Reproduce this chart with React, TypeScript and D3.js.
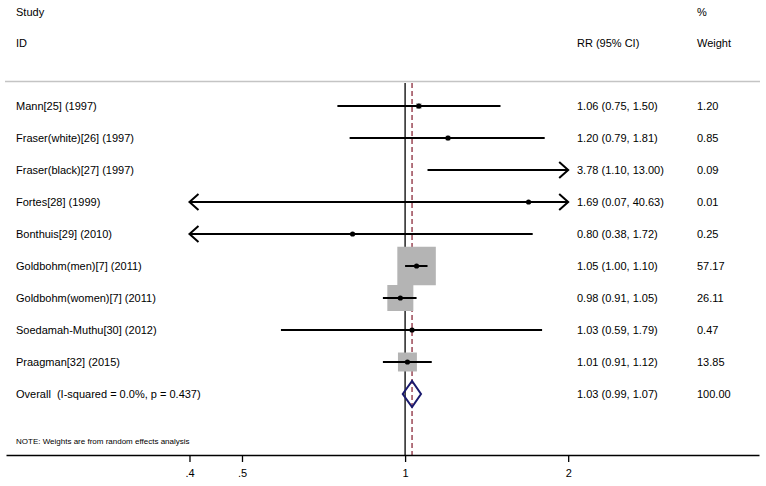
import React, { useEffect, useRef } from "react";
import * as d3 from "d3";

// forest plot: RR per study, log x axis, boxes sized by weight
const studies = [
  "Mann[25] (1997)",
  "Fraser(white)[26] (1997)",
  "Fraser(black)[27] (1997)",
  "Fortes[28] (1999)",
  "Bonthuis[29] (2010)",
  "Goldbohm(men)[7] (2011)",
  "Goldbohm(women)[7] (2011)",
  "Soedamah-Muthu[30] (2012)",
  "Praagman[32] (2015)",
];
const rr = [1.06, 1.2, 3.78, 1.69, 0.8, 1.05, 0.98, 1.03, 1.01];
const lower = [0.75, 0.79, 1.1, 0.07, 0.38, 1.0, 0.91, 0.59, 0.91];
const upper = [1.5, 1.81, 13.0, 40.63, 1.72, 1.1, 1.05, 1.79, 1.12];
const weights = [1.2, 0.85, 0.09, 0.01, 0.25, 57.17, 26.11, 0.47, 13.85];

const overallLabel = "Overall  (I-squared = 0.0%, p = 0.437)";
const overallRR = 1.03;
const overallLower = 0.99;
const overallUpper = 1.07;
const overallWeight = 100.0;

const tickValues = [0.4, 0.5, 1, 2];
const tickLabels = [".4", ".5", "1", "2"];

const W = 766;
const H = 486;
const FONT = "'Liberation Sans', Arial, sans-serif";

const App = () => {
  const svgRef = useRef<SVGSVGElement>(null);

  useEffect(() => {
    const svg = d3.select(svgRef.current);
    svg.selectAll("*").remove();

    const x = d3.scaleLog().domain([0.1834, 4.5]).range([6, 759]);
    const clipLo = tickValues[0];
    const clipHi = tickValues[tickValues.length - 1];
    const nRows = studies.length + 1;
    const y = d3.scaleLinear().domain([0, nRows - 1]).range([106, 394]);
    const axisY = 455;
    const maxSide = 38.5;
    const side = d3.scaleSqrt().domain([0, d3.max(weights) as number]).range([0, maxSide]);

    const fmt = d3.format(".2f");

    //text helper
    const txt = (tx: number, ty: number, s: string, size = 11) =>
      svg
        .append("text")
        .attr("x", tx)
        .attr("y", ty)
        .attr("font-family", FONT)
        .attr("font-size", size)
        .attr("fill", "#000")
        .style("white-space", "pre")
        .text(s);

    txt(16, 16, "Study");
    txt(16, 47, "ID");
    txt(577, 47, "RR (95% CI)");
    txt(697, 16, "%");
    txt(697, 47, "Weight");

    //gray line under header
    svg
      .append("line")
      .attr("x1", 5)
      .attr("x2", 760)
      .attr("y1", 81.5)
      .attr("y2", 81.5)
      .attr("stroke", "#c4c4c4")
      .attr("stroke-width", 1.5);

    //null line and overall dashed line
    svg
      .append("line")
      .attr("x1", x(1))
      .attr("x2", x(1))
      .attr("y1", 83)
      .attr("y2", axisY)
      .attr("stroke", "#000")
      .attr("stroke-width", 1.3);
    svg
      .append("line")
      .attr("x1", x(overallRR))
      .attr("x2", x(overallRR))
      .attr("y1", 83)
      .attr("y2", axisY)
      .attr("stroke", "#8b2a3a")
      .attr("stroke-width", 1.3)
      .attr("stroke-dasharray", "5 3");

    //weight boxes
    svg
      .append("g")
      .selectAll("rect")
      .data(studies)
      .enter()
      .append("rect")
      .attr("x", (_, i) => x(rr[i]) - side(weights[i]) / 2)
      .attr("y", (_, i) => y(i) - side(weights[i]) / 2)
      .attr("width", (_, i) => side(weights[i]))
      .attr("height", (_, i) => side(weights[i]))
      .attr("fill", "#b4b4b4");

    //CI lines with arrows where clipped
    const g = svg.append("g").attr("stroke", "#000").attr("stroke-width", 2).attr("fill", "none");
    studies.forEach((_, i) => {
      const lo = Math.max(lower[i], clipLo);
      const hi = Math.min(upper[i], clipHi);
      const yy = y(i);
      g.append("line").attr("x1", x(lo)).attr("x2", x(hi)).attr("y1", yy).attr("y2", yy);
      if (lower[i] < clipLo) {
        const ax = x(clipLo);
        g.append("path").attr("d", `M${ax + 9},${yy - 8}L${ax},${yy}L${ax + 9},${yy + 8}`);
      }
      if (upper[i] > clipHi) {
        const ax = x(clipHi);
        g.append("path").attr("d", `M${ax - 9},${yy - 8}L${ax},${yy}L${ax - 9},${yy + 8}`);
      }
    });

    //point estimates (only those inside the plotted range)
    svg
      .append("g")
      .selectAll("circle")
      .data(studies.map((_, i) => i).filter((i) => rr[i] >= clipLo && rr[i] <= clipHi))
      .enter()
      .append("circle")
      .attr("cx", (i) => x(rr[i]))
      .attr("cy", (i) => y(i))
      .attr("r", 2.6)
      .attr("fill", "#000");

    //overall diamond
    const oy = y(nRows - 1);
    svg
      .append("path")
      .attr(
        "d",
        `M${x(overallLower)},${oy}L${x(overallRR)},${oy - 13}L${x(overallUpper)},${oy}L${x(overallRR)},${oy + 13}Z`
      )
      .attr("fill", "none")
      .attr("stroke", "#1a1a6e")
      .attr("stroke-width", 2);

    //row labels and numbers
    studies.forEach((s, i) => {
      const yy = y(i) + 4;
      txt(16, yy, s);
      txt(577, yy, `${fmt(rr[i])} (${fmt(lower[i])}, ${fmt(upper[i])})`);
      txt(697, yy, fmt(weights[i]));
    });
    txt(16, oy + 4, overallLabel);
    txt(577, oy + 4, `${fmt(overallRR)} (${fmt(overallLower)}, ${fmt(overallUpper)})`);
    txt(697, oy + 4, fmt(overallWeight));

    txt(16, 444, "NOTE: Weights are from random effects analysis", 8);

    //x-axis
    const ax = svg
      .append("g")
      .attr("transform", `translate(0, ${axisY})`)
      .call(
        d3
          .axisBottom(x)
          .tickValues(tickValues)
          .tickFormat((_, i) => tickLabels[i])
          .tickSize(7)
          .tickSizeOuter(0)
      );
    ax.select(".domain").attr("stroke", "#000").attr("stroke-width", 1.5);
    ax.selectAll(".tick line").attr("stroke", "#000").attr("stroke-width", 1.3);
    ax.selectAll(".tick text")
      .attr("font-family", FONT)
      .attr("font-size", 11)
      .attr("fill", "#000")
      .attr("dy", "1.05em");
  }, []);

  return (
    <svg
      ref={svgRef}
      width={W}
      height={H}
      style={{ position: "absolute", left: 0, top: 0, background: "#fff" }}
    />
  );
};

export default App;
